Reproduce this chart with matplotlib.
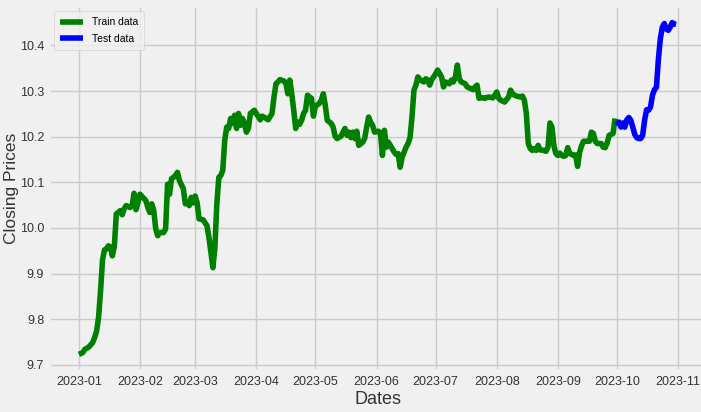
import numpy as np
import pandas as pd
import matplotlib
matplotlib.use("Agg")
import matplotlib.pyplot as plt

start_date = "2023-01-01"

# day offsets from start_date and closing prices
train_days = [0, 2, 3, 5, 7, 8, 9, 10, 11, 12, 13, 14, 15, 16, 17, 18, 19, 20, 21, 22,
              23, 24, 26, 27, 28, 29, 31, 32, 34, 35, 36, 37, 38, 39, 40, 41, 43, 44, 45, 46,
              47, 48, 49, 50, 51, 53, 54, 55, 56, 57, 58, 59, 60, 61, 63, 65, 66, 67, 68, 69,
              70, 71, 72, 73, 74, 75, 76, 77, 78, 79, 80, 81, 82, 83, 84, 85, 86, 87, 88, 89,
              90, 92, 93, 95, 96, 98, 99, 100, 101, 102, 104, 105, 106, 107, 108, 109, 110, 111, 112, 113,
              114, 115, 116, 117, 118, 119, 120, 122, 123, 124, 125, 126, 128, 129, 130, 131, 133, 134, 135, 136,
              137, 138, 139, 140, 141, 142, 144, 145, 146, 147, 148, 149, 150, 152, 153, 154, 155, 156, 157, 158,
              160, 161, 162, 163, 164, 166, 167, 168, 169, 170, 171, 172, 173, 175, 176, 177, 178, 179, 180, 181,
              182, 184, 185, 186, 188, 189, 190, 191, 192, 193, 194, 196, 197, 199, 200, 201, 202, 203, 204, 206,
              207, 208, 210, 211, 212, 213, 214, 215, 216, 218, 219, 220, 221, 222, 224, 225, 226, 227, 228, 229,
              230, 231, 232, 233, 234, 236, 237, 238, 239, 240, 241, 242, 243, 244, 245, 246, 247, 248, 249, 250,
              251, 252, 253, 254, 255, 256, 257, 258, 259, 260, 261, 262, 263, 265, 266, 267, 268, 269, 270, 271,
              272]
train_values = [9.723, 9.727, 9.734, 9.739, 9.749, 9.760, 9.774, 9.804, 9.862, 9.930, 9.952, 9.954, 9.961, 9.958, 9.939, 9.960, 10.031, 10.034, 10.038, 10.029,
                10.042, 10.049, 10.045, 10.049, 10.076, 10.040, 10.074, 10.069, 10.060, 10.045, 10.034, 10.053, 10.038, 9.998, 9.983, 9.990, 9.990, 9.998, 10.096, 10.074,
                10.108, 10.111, 10.115, 10.122, 10.104, 10.086, 10.053, 10.056, 10.049, 10.067, 10.055, 10.070, 10.055, 10.020, 10.018, 10.005, 9.979, 9.946, 9.913, 9.957,
                10.053, 10.111, 10.115, 10.126, 10.192, 10.221, 10.218, 10.240, 10.229, 10.247, 10.218, 10.251, 10.225, 10.240, 10.229, 10.210, 10.218, 10.251, 10.254, 10.258,
                10.251, 10.237, 10.245, 10.240, 10.237, 10.251, 10.287, 10.316, 10.320, 10.325, 10.322, 10.318, 10.294, 10.324, 10.294, 10.258, 10.218, 10.232, 10.227, 10.236,
                10.251, 10.258, 10.291, 10.287, 10.284, 10.245, 10.267, 10.273, 10.280, 10.294, 10.269, 10.236, 10.229, 10.221, 10.201, 10.196, 10.201, 10.210, 10.218, 10.203,
                10.210, 10.198, 10.210, 10.196, 10.212, 10.181, 10.188, 10.196, 10.221, 10.243, 10.232, 10.225, 10.210, 10.212, 10.207, 10.159, 10.214, 10.177, 10.188, 10.181,
                10.166, 10.161, 10.163, 10.133, 10.155, 10.177, 10.185, 10.198, 10.243, 10.302, 10.313, 10.331, 10.325, 10.320, 10.327, 10.324, 10.313, 10.325, 10.331, 10.338,
                10.346, 10.331, 10.309, 10.320, 10.316, 10.324, 10.320, 10.331, 10.357, 10.327, 10.320, 10.316, 10.309, 10.305, 10.303, 10.309, 10.313, 10.284, 10.286, 10.284,
                10.286, 10.287, 10.285, 10.291, 10.298, 10.284, 10.280, 10.278, 10.276, 10.287, 10.302, 10.294, 10.291, 10.289, 10.287, 10.289, 10.280, 10.251, 10.185, 10.174,
                10.170, 10.174, 10.170, 10.181, 10.171, 10.170, 10.168, 10.177, 10.230, 10.221, 10.180, 10.163, 10.159, 10.164, 10.159, 10.157, 10.159, 10.176, 10.164, 10.161,
                10.159, 10.160, 10.135, 10.165, 10.180, 10.190, 10.190, 10.190, 10.190, 10.210, 10.207, 10.190, 10.185, 10.185, 10.177, 10.176, 10.186, 10.203, 10.205, 10.207,
                10.240]

test_days = [273, 274, 275, 276, 277, 278, 279, 280, 281, 282, 283, 284, 285, 286, 287, 288, 289, 290,
             291, 292, 293, 294, 295, 296, 297, 298, 299, 300, 301, 302, 303]
test_values = [10.225, 10.232, 10.221, 10.230, 10.221, 10.237, 10.242, 10.236, 10.221, 10.205, 10.198, 10.196, 10.196, 10.203, 10.236, 10.259, 10.258, 10.265,
               10.291, 10.303, 10.308, 10.370, 10.415, 10.440, 10.448, 10.436, 10.433, 10.440, 10.450, 10.447, 10.446]

train_dates = pd.Timestamp(start_date) + pd.to_timedelta(train_days, unit="D")
test_dates = pd.Timestamp(start_date) + pd.to_timedelta(test_days, unit="D")

plt.style.use("fivethirtyeight")
plt.rcParams["font.family"] = ["Liberation Sans", "DejaVu Sans"]

fig = plt.figure(figsize=(7.01, 4.12), dpi=100)
ax = fig.add_axes([49 / 701, 41 / 412, 657 / 701, 365 / 412])

ax.plot(train_dates, train_values, color="green", linewidth=4, label="Train data")
ax.plot(test_dates, test_values, color="blue", linewidth=4, label="Test data")

ax.set_xlabel("Dates", fontsize=13, color="#333333", labelpad=2)
ax.set_ylabel("Closing Prices", fontsize=12.5, color="#333333")
ax.yaxis.set_label_coords(-0.046, 0.5)
ax.tick_params(axis="both", labelsize=9, colors="#333333")
ax.grid(True, color="#cbcbcb", linewidth=1)

ax.legend(loc="upper left", fontsize=7.5, handlelength=2.2, borderaxespad=0.5,
          borderpad=0.6, labelspacing=0.6)

fig.savefig("out.png", dpi=100, facecolor=fig.get_facecolor())
